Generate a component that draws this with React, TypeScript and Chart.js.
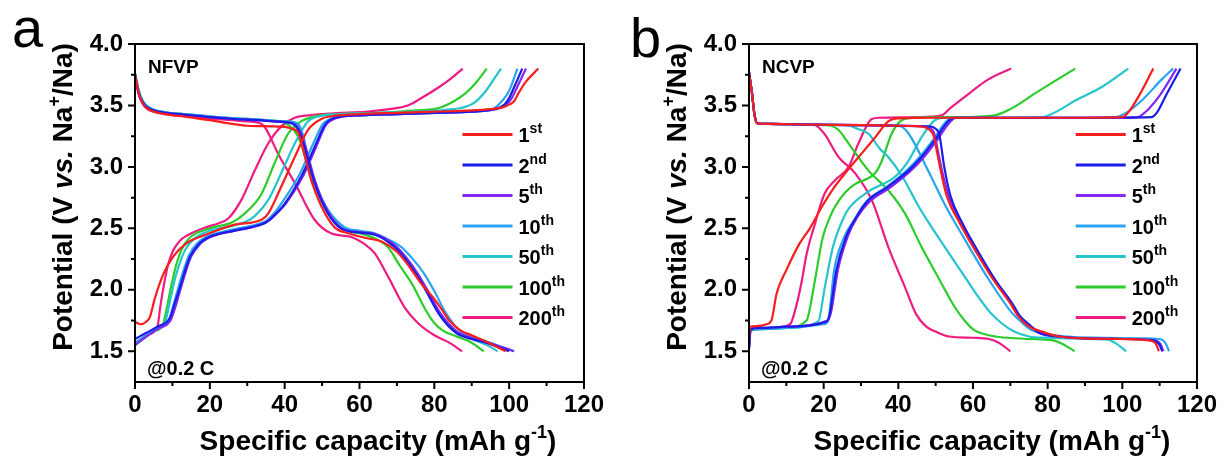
import React, { useEffect, useRef } from 'react';
import { Chart, registerables } from 'chart.js';
Chart.register(...registerables);

// ---------- labels / ticks ----------
const cycleNums = ['1', '2', '5', '10', '50', '100', '200'];
const cycleSups = ['st', 'nd', 'th', 'th', 'th', 'th', 'th'];
const cycleColors = ['#f81e1e', '#1c1ce8', '#8228f0', '#2aa4f0', '#26c4cc', '#2ccc2c', '#ee1c80'];
const xMajor = [0, 20, 40, 60, 80, 100, 120];
const xMinor = [10, 30, 50, 70, 90, 110];
const yMajor = [1.5, 2.0, 2.5, 3.0, 3.5, 4.0];
const yMinor = [1.75, 2.25, 2.75, 3.25, 3.75];

// ---------- Panel a: NFVP (capacity mAh/g, potential V) ----------
const aDis1 = [[0,3.75],[1,3.6],[2,3.52],[3,3.48],[5,3.45],[8,3.43],[13,3.41],[20,3.38],[26,3.35],[30,3.335],[36,3.33],[40,3.325],[42,3.31],[43.6,3.28],[45.3,3.1],[47.1,2.89],[49.8,2.68],[53.3,2.51],[57,2.46],[62,2.42],[66.2,2.39],[70,2.31],[73.3,2.19],[76.5,2.05],[79.6,1.94],[82,1.84],[84,1.75],[87,1.67],[90,1.63],[93.8,1.58],[99.1,1.5]];
const aDis2 = [[0,3.75],[1,3.6],[2,3.53],[3,3.49],[5,3.46],[8,3.44],[13,3.425],[20,3.405],[26.7,3.39],[33,3.38],[37.3,3.37],[40,3.365],[42.7,3.34],[44,3.28],[45.3,3.16],[48,2.87],[51.6,2.62],[55,2.5],[60,2.465],[64,2.45],[68.9,2.36],[72,2.26],[75.1,2.13],[78,1.98],[81.3,1.8],[85.8,1.65],[90,1.6],[93.8,1.57],[100,1.5]];
const aDis5 = [[0,3.74],[1,3.59],[2,3.52],[3,3.48],[5,3.455],[8,3.44],[13,3.425],[20,3.405],[26.7,3.39],[33,3.38],[37.3,3.37],[40.5,3.365],[43,3.34],[44.3,3.28],[45.6,3.16],[48.3,2.87],[51.9,2.62],[55.3,2.5],[60,2.47],[64,2.455],[69.2,2.37],[72.3,2.27],[75.4,2.14],[78.3,1.99],[81.6,1.81],[86.1,1.66],[90,1.61],[94,1.575],[101.3,1.5]];
const aDis10 = [[0,3.76],[1,3.62],[2,3.54],[3,3.5],[5,3.465],[8,3.445],[13,3.43],[20,3.41],[26.7,3.395],[33,3.385],[37.3,3.375],[41,3.37],[43.6,3.35],[45,3.25],[46.2,3.08],[48.4,2.84],[51.6,2.65],[56,2.51],[60,2.48],[64,2.46],[67,2.42],[71.1,2.35],[74,2.26],[77.3,2.13],[80,1.99],[83.1,1.81],[86.7,1.67],[90,1.62],[94,1.58],[101.3,1.5]];
const aDis50 = [[0,3.76],[1,3.62],[2,3.54],[3,3.5],[5,3.465],[8,3.445],[13,3.43],[20,3.41],[26.7,3.395],[33,3.385],[37.3,3.375],[41,3.37],[43.3,3.35],[44.7,3.25],[46,3.08],[48.2,2.84],[51.3,2.65],[55.5,2.51],[60,2.47],[64,2.45],[67,2.41],[70.5,2.33],[73.5,2.22],[76.5,2.07],[79.5,1.9],[82.5,1.75],[85.5,1.66],[90,1.6],[94,1.55],[96.9,1.5]];
const aDis100 = [[0,3.76],[1,3.62],[2,3.54],[3,3.5],[5,3.465],[8,3.445],[13,3.43],[20,3.41],[26.7,3.395],[33,3.385],[37.3,3.375],[40,3.36],[42.5,3.3],[44.4,3.19],[46.2,3.0],[48.9,2.78],[52.4,2.59],[56.9,2.48],[60,2.46],[64,2.42],[67.5,2.35],[70.7,2.2],[74,2.05],[77.8,1.83],[80,1.73],[82.2,1.67],[86,1.62],[90,1.57],[93.2,1.5]];
const aDis200 = [[0,3.75],[1,3.6],[2,3.52],[3,3.48],[5,3.45],[8,3.43],[13,3.415],[20,3.395],[26,3.38],[30,3.37],[33.8,3.35],[35,3.31],[38.2,3.11],[42.7,2.87],[48,2.57],[52.4,2.46],[57.8,2.43],[61,2.38],[64,2.3],[67.6,2.11],[72,1.86],[75.6,1.73],[80,1.63],[84,1.57],[87.4,1.5]];

const aCh1 = [[0,1.74],[1.5,1.72],[3,1.74],[4,1.78],[5.3,1.93],[7.6,2.13],[10.2,2.27],[13.8,2.38],[19.1,2.45],[26.7,2.53],[33.8,2.57],[35.6,2.62],[39.1,2.84],[42.7,3.08],[46.2,3.3],[49.8,3.39],[53.3,3.415],[60,3.43],[70,3.44],[80,3.45],[90,3.46],[95,3.47],[97.8,3.48],[99.5,3.5],[101.2,3.53],[102.5,3.6],[104.4,3.69],[107.8,3.8]];
const aCh2 = [[0,1.6],[3,1.65],[6,1.7],[9.3,1.77],[10.5,1.88],[12,2.02],[13.3,2.15],[14.7,2.27],[17,2.37],[19.1,2.42],[26.2,2.48],[31,2.51],[35.1,2.55],[37,2.6],[40,2.7],[44.4,2.92],[48,3.16],[50.5,3.33],[52,3.38],[55,3.41],[60,3.42],[70,3.43],[80,3.44],[90,3.45],[96,3.47],[98.5,3.5],[100,3.56],[101.5,3.66],[103.5,3.8]];
const aCh5 = [[0,1.55],[3,1.62],[6,1.68],[9.5,1.75],[10.8,1.86],[12.3,2.02],[13.6,2.15],[15,2.27],[17.3,2.37],[19.5,2.42],[26.5,2.48],[31.5,2.51],[35.6,2.56],[37.5,2.61],[40.5,2.71],[45,2.93],[48.5,3.17],[51,3.34],[52.5,3.38],[55.5,3.41],[60,3.42],[70,3.43],[80,3.44],[90,3.45],[96.5,3.47],[99,3.5],[100.7,3.56],[102.3,3.66],[104.5,3.8]];
const aCh10 = [[0,1.57],[3,1.63],[6,1.69],[9,1.75],[10.3,1.88],[11.7,2.03],[13,2.16],[14.4,2.28],[16.7,2.38],[19,2.43],[26,2.49],[31,2.52],[35,2.56],[36.8,2.61],[39.5,2.72],[44,2.94],[47.5,3.18],[50,3.34],[51.5,3.38],[54.5,3.41],[60,3.42],[70,3.43],[80,3.44],[90,3.45],[95.6,3.47],[98.2,3.54],[100,3.62],[102.2,3.8]];
const aCh50 = [[0,1.55],[3,1.62],[6,1.68],[8,1.73],[9.3,1.9],[10.6,2.08],[12,2.22],[13.5,2.33],[16,2.42],[20,2.48],[26,2.52],[30,2.56],[32,2.6],[35.6,2.73],[39.1,2.95],[42.7,3.19],[46.2,3.37],[49,3.41],[55,3.43],[65,3.44],[75,3.45],[85,3.47],[88.4,3.49],[91,3.53],[93.8,3.62],[97.8,3.8]];
const aCh100 = [[0,1.55],[3,1.62],[5,1.66],[7.5,1.72],[8.5,1.85],[9.6,2.02],[11,2.2],[12.5,2.33],[14.5,2.42],[20,2.5],[26,2.55],[29.3,2.62],[33.8,2.78],[37.3,3.03],[40.9,3.27],[44.4,3.37],[48,3.41],[55,3.43],[65,3.44],[75,3.46],[80,3.47],[82.2,3.49],[85,3.53],[88.4,3.6],[91,3.68],[94,3.8]];
const aCh200 = [[0,1.55],[3,1.63],[6,1.7],[6.7,1.85],[7.6,2.02],[8.8,2.2],[10.2,2.32],[12,2.4],[13.8,2.44],[19.1,2.51],[22.2,2.54],[24.9,2.58],[28.4,2.73],[32,2.97],[35.6,3.19],[39.1,3.33],[42.7,3.4],[46.2,3.42],[55,3.44],[62.2,3.45],[68,3.47],[72.9,3.5],[76,3.55],[81.3,3.65],[84.5,3.72],[87.6,3.8]];

// ---------- Panel b: NCVP ----------
const bDis1 = [[0,3.77],[0.8,3.6],[1.5,3.42],[2.2,3.355],[5,3.35],[15,3.345],[30,3.34],[40,3.335],[46,3.33],[48,3.31],[49.5,3.25],[50.5,3.1],[51.5,2.95],[53,2.76],[56.5,2.54],[61,2.3],[65.5,2.08],[70,1.89],[72,1.79],[75,1.7],[78.5,1.66],[83,1.62],[90,1.605],[100,1.6],[107.8,1.585],[109,1.56],[109.8,1.5]];
const bDis2 = [[0,3.77],[0.8,3.6],[1.5,3.42],[2.2,3.355],[5,3.35],[15,3.345],[30,3.34],[40,3.335],[48,3.33],[50,3.31],[51,3.26],[52.3,3.0],[54,2.76],[57.2,2.54],[61.6,2.3],[66,2.08],[70.5,1.89],[72.5,1.79],[75,1.72],[77.6,1.65],[83,1.62],[90,1.605],[100,1.6],[108,1.59],[109.8,1.56],[110.7,1.5]];
const bDis5 = [[0,3.77],[0.8,3.6],[1.5,3.42],[2.2,3.355],[5,3.35],[15,3.345],[30,3.34],[40,3.335],[46,3.33],[48,3.32],[49.5,3.28],[50.8,3.1],[52,2.93],[53.5,2.76],[57,2.54],[61.3,2.3],[65.8,2.08],[70.2,1.89],[72.3,1.79],[75,1.71],[78,1.66],[83,1.62],[90,1.605],[100,1.6],[108.5,1.59],[110.2,1.56],[111,1.5]];
const bDis10 = [[0,3.77],[0.8,3.6],[1.5,3.42],[2.2,3.355],[5,3.35],[15,3.345],[30,3.34],[38,3.34],[40.3,3.335],[42,3.3],[43.8,3.22],[48.3,2.95],[52.7,2.68],[58,2.4],[64.3,2.08],[70.5,1.81],[72.5,1.75],[75.8,1.67],[80,1.64],[85,1.62],[95,1.61],[105,1.605],[110,1.6],[111.5,1.57],[112.5,1.5]];
const bDis50 = [[0,3.77],[0.8,3.6],[1.5,3.42],[2.2,3.355],[5,3.35],[15,3.345],[25,3.34],[27,3.335],[29,3.31],[32,3.27],[35,3.15],[37.3,3.08],[40.9,2.93],[45.6,2.67],[49.8,2.47],[53.5,2.3],[57.5,2.12],[61,1.96],[64.5,1.82],[67.6,1.73],[71,1.66],[75,1.62],[80,1.61],[90,1.6],[96,1.595],[98.5,1.56],[101,1.5]];
const bDis100 = [[0,3.77],[0.8,3.6],[1.5,3.42],[2.2,3.355],[5,3.35],[15,3.345],[20,3.34],[22,3.335],[24,3.3],[26.7,3.19],[32,2.97],[37.3,2.81],[41.8,2.62],[46.2,2.35],[50.7,2.1],[55.1,1.86],[58,1.74],[60.4,1.67],[63,1.64],[66,1.62],[75,1.6],[81.2,1.59],[84,1.56],[87.2,1.5]];
const bDis200 = [[0,3.77],[0.8,3.6],[1.5,3.42],[2.2,3.355],[5,3.35],[15,3.345],[17.8,3.34],[19,3.31],[20.4,3.26],[24,3.08],[28.4,2.95],[32.9,2.73],[37.3,2.35],[41.8,2.02],[44.8,1.8],[47.5,1.7],[50,1.66],[53.6,1.62],[60,1.61],[64.3,1.6],[66.9,1.57],[70,1.5]];

const bCh1 = [[0,1.6],[0.3,1.7],[2,1.705],[4.7,1.72],[6,1.75],[7.4,1.97],[10,2.16],[13.6,2.38],[16.3,2.5],[19.6,2.68],[22.5,2.82],[25.8,2.95],[30.2,3.11],[33.8,3.24],[37.3,3.37],[40,3.395],[50,3.4],[70,3.4],[90,3.4],[100,3.405],[101.5,3.44],[104.3,3.57],[108.3,3.8]];
const bCh2 = [[0,1.53],[0.4,1.68],[3,1.69],[10,1.7],[20.7,1.74],[21.6,1.8],[23.4,2.16],[26,2.43],[28.7,2.59],[32,2.73],[37.3,2.84],[42.7,2.97],[46.2,3.08],[49.8,3.22],[53.3,3.37],[55.1,3.4],[70,3.4],[90,3.4],[107.8,3.405],[109.2,3.44],[112,3.6],[115.6,3.8]];
const bCh5 = [[0,1.53],[0.4,1.68],[3,1.69],[10,1.7],[21,1.75],[22,1.82],[23.8,2.16],[26.4,2.43],[29,2.59],[32.4,2.72],[37.7,2.83],[43,2.96],[46.6,3.07],[50.2,3.21],[53.7,3.36],[55.5,3.4],[70,3.4],[100,3.4],[104.3,3.405],[105.5,3.43],[107,3.47],[110,3.58],[114.5,3.8]];
const bCh10 = [[0,1.53],[0.4,1.67],[3,1.68],[10,1.69],[20,1.72],[21.2,1.75],[22.8,2.16],[25.5,2.43],[28.2,2.57],[31.5,2.72],[37,2.84],[42.2,2.97],[45.7,3.08],[49.3,3.22],[52.8,3.37],[54.6,3.4],[70,3.4],[90,3.4],[98,3.405],[101,3.44],[105.2,3.54],[110.5,3.71],[113.6,3.8]];
const bCh50 = [[0,1.53],[0.4,1.67],[3,1.68],[10,1.69],[18.5,1.74],[20.3,2.02],[22.5,2.35],[25.1,2.57],[26.7,2.66],[32,2.8],[39.1,2.92],[42.7,3.05],[46.2,3.24],[49.8,3.38],[53,3.4],[70,3.4],[78.5,3.405],[83,3.46],[87.4,3.54],[94.5,3.65],[101.6,3.8]];
const bCh100 = [[0,1.53],[0.4,1.67],[3,1.68],[10,1.69],[15.4,1.75],[17.5,2.05],[19.7,2.42],[21.8,2.6],[23.1,2.68],[26,2.8],[28.4,2.86],[33.8,2.95],[35.6,3.05],[38.2,3.27],[40.9,3.38],[44,3.4],[55,3.405],[65.8,3.42],[70,3.47],[76.7,3.6],[82,3.7],[87.4,3.8]];
const bCh200 = [[0,1.53],[0.4,1.66],[2,1.685],[6,1.69],[11,1.72],[12.5,1.85],[14,2.05],[15.5,2.3],[17.5,2.52],[20.2,2.78],[23,2.89],[26.7,3.0],[29.3,3.19],[32.9,3.39],[35,3.4],[45,3.405],[51.6,3.42],[54,3.48],[57.8,3.57],[64,3.71],[70.2,3.8]];

const panelA = {
  discharge: [aDis1, aDis2, aDis5, aDis10, aDis50, aDis100, aDis200],
  charge: [aCh1, aCh2, aCh5, aCh10, aCh50, aCh100, aCh200],
};
const panelB = {
  discharge: [bDis1, bDis2, bDis5, bDis10, bDis50, bDis100, bDis200],
  charge: [bCh1, bCh2, bCh5, bCh10, bCh50, bCh100, bCh200],
};

const FONT = '"Liberation Sans", Arial, Helvetica, sans-serif';

type Run = { t: string; font: string; dy: number };

function runsWidth(ctx: CanvasRenderingContext2D, runs: Run[]) {
  let w = 0;
  for (const r of runs) { ctx.font = r.font; w += ctx.measureText(r.t).width; }
  return w;
}
function drawRuns(ctx: CanvasRenderingContext2D, runs: Run[], x: number, y: number) {
  let cx = x;
  for (const r of runs) {
    ctx.font = r.font;
    ctx.fillText(r.t, cx, y + r.dy);
    cx += ctx.measureText(r.t).width;
  }
}

const decorPlugin = {
  id: 'decor',
  afterDraw(chart: any) {
    const o = chart.options.plugins.decor;
    const { ctx, chartArea: ca } = chart;
    const xs = chart.scales.x, ys = chart.scales.y;
    ctx.save();
    ctx.strokeStyle = '#000';
    ctx.lineWidth = 2;
    ctx.strokeRect(ca.left, ca.top, ca.right - ca.left, ca.bottom - ca.top);
    ctx.beginPath();
    xMajor.forEach(v => { const p = xs.getPixelForValue(v); ctx.moveTo(p, ca.bottom); ctx.lineTo(p, ca.bottom + 7); });
    xMinor.forEach(v => { const p = xs.getPixelForValue(v); ctx.moveTo(p, ca.bottom); ctx.lineTo(p, ca.bottom + 4); });
    yMajor.forEach(v => { const p = ys.getPixelForValue(v); ctx.moveTo(ca.left, p); ctx.lineTo(ca.left - 7, p); });
    yMinor.forEach(v => { const p = ys.getPixelForValue(v); ctx.moveTo(ca.left, p); ctx.lineTo(ca.left - 4, p); });
    ctx.stroke();

    ctx.fillStyle = '#000';
    ctx.textAlign = 'left';
    ctx.textBaseline = 'alphabetic';
    // panel letter
    ctx.font = `56px ${FONT}`;
    ctx.fillText(o.letter, o.letterX, o.letterY);
    // sample name and rate
    ctx.font = `bold 19px ${FONT}`;
    ctx.fillText(o.sample, ca.left + 13, ca.top + 29);
    ctx.font = `bold 20px ${FONT}`;
    ctx.fillText('@0.2 C', ca.left + 12, ca.bottom - 7);

    // x title
    const B = `bold 28px ${FONT}`;
    const S = `bold 18px ${FONT}`;
    const xRuns: Run[] = [
      { t: 'Specific capacity (mAh g', font: B, dy: 0 },
      { t: '-1', font: S, dy: -12 },
      { t: ')', font: B, dy: 0 },
    ];
    const xw = runsWidth(ctx, xRuns);
    drawRuns(ctx, xRuns, o.xTitleCx - xw / 2, 450);

    // y title (rotated)
    const BI = `italic bold 28px ${FONT}`;
    const yRuns: Run[] = [
      { t: 'Potential (V ', font: B, dy: 0 },
      { t: 'vs.', font: BI, dy: 0 },
      { t: ' Na', font: B, dy: 0 },
      { t: '+', font: S, dy: -12 },
      { t: '/Na)', font: B, dy: 0 },
    ];
    const yw = runsWidth(ctx, yRuns);
    ctx.save();
    ctx.translate(o.yTitleX, 197);
    ctx.rotate(-Math.PI / 2);
    drawRuns(ctx, yRuns, -yw / 2, 0);
    ctx.restore();

    // legend
    for (let i = 0; i < cycleNums.length; i++) {
      const yc = 134.5 + i * 30.5;
      ctx.strokeStyle = cycleColors[i];
      ctx.lineWidth = 3;
      ctx.beginPath();
      ctx.moveTo(o.legendX, yc);
      ctx.lineTo(o.legendX + 50, yc);
      ctx.stroke();
      ctx.fillStyle = '#000';
      drawRuns(ctx, [
        { t: cycleNums[i], font: `bold 20px ${FONT}`, dy: 0 },
        { t: cycleSups[i], font: `bold 14px ${FONT}`, dy: -9 },
      ], o.legendX + 56, yc + 7.5);
    }
    ctx.restore();
  },
};

function makeConfig(panel: any, decor: any, yWidth: number, padRight: number) {
  const datasets: any[] = [];
  for (let i = 0; i < cycleNums.length; i++) {
    for (const curve of [panel.discharge[i], panel.charge[i]]) {
      datasets.push({
        label: cycleNums[i] + cycleSups[i],
        data: curve.map((p: number[]) => ({ x: p[0], y: p[1] })),
        showLine: true,
        borderColor: cycleColors[i],
        backgroundColor: cycleColors[i],
        borderWidth: 2.2,
        pointRadius: 0,
        fill: false,
        cubicInterpolationMode: 'monotone',
      });
    }
  }
  return {
    type: 'scatter',
    data: { datasets },
    plugins: [decorPlugin],
    options: {
      animation: false,
      responsive: false,
      devicePixelRatio: 1,
      events: [],
      layout: { padding: { left: 0, top: 44, right: padRight, bottom: 0 } },
      plugins: { legend: { display: false }, tooltip: { enabled: false }, decor },
      scales: {
        x: {
          type: 'linear', min: 0, max: 120,
          afterBuildTicks: (s: any) => { s.ticks = xMajor.map(v => ({ value: v })); },
          afterFit: (s: any) => { s.height = 76; },
          grid: { display: false, drawTicks: false },
          border: { display: false },
          ticks: { color: '#000', padding: 9, maxRotation: 0, font: { family: FONT, size: 24, weight: 'bold' }, callback: (v: any) => String(v) },
        },
        y: {
          type: 'linear', min: 1.25, max: 4.0,
          afterBuildTicks: (s: any) => { s.ticks = yMajor.map(v => ({ value: v })); },
          afterFit: (s: any) => { s.width = yWidth; },
          grid: { display: false, drawTicks: false },
          border: { display: false },
          ticks: { color: '#000', padding: 12, font: { family: FONT, size: 24, weight: 'bold' }, callback: (v: any) => Number(v).toFixed(1) },
        },
      },
    },
  };
}

function Panel({ panel, decor, left, yWidth, padRight }: any) {
  const ref = useRef<HTMLCanvasElement>(null);
  useEffect(() => {
    const chart = new Chart(ref.current as HTMLCanvasElement, makeConfig(panel, decor, yWidth, padRight) as any);
    return () => chart.destroy();
  }, []);
  return (
    <canvas ref={ref} width={613} height={458}
      style={{ position: 'absolute', left, top: 0, width: 613, height: 458 }} />
  );
}

export default function App() {
  return (
    <div style={{ position: 'absolute', left: 0, top: 0, width: 1226, height: 458, background: '#fff', overflow: 'hidden' }}>
      <Panel panel={panelA} left={0} yWidth={135} padRight={28}
        decor={{ letter: 'a', letterX: 12, letterY: 47, sample: 'NFVP', xTitleCx: 378, yTitleX: 72, legendX: 462.5 }} />
      <Panel panel={panelB} left={613} yWidth={136} padRight={27}
        decor={{ letter: 'b', letterX: 17, letterY: 57, sample: 'NCVP', xTitleCx: 379, yTitleX: 73, legendX: 462.7 }} />
    </div>
  );
}
